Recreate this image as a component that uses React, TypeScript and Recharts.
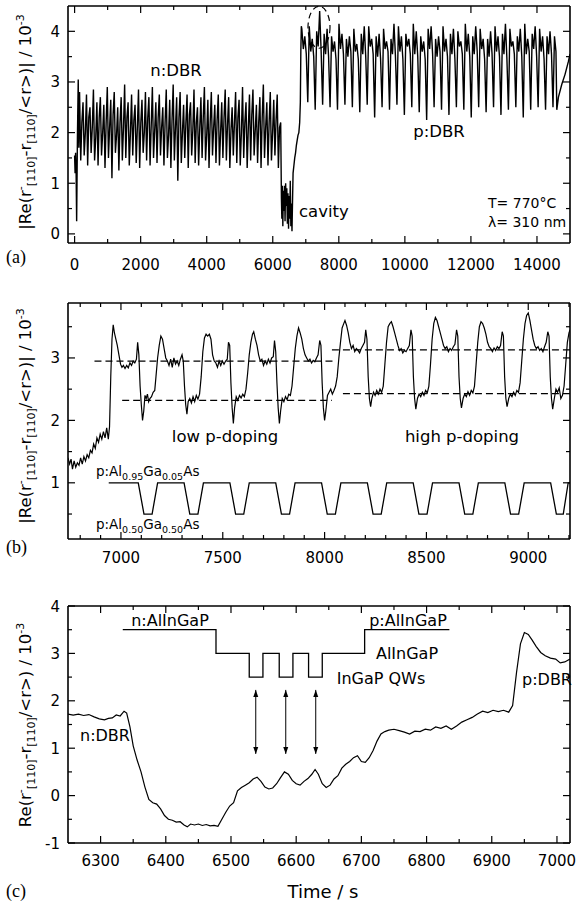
import { LineChart, Line, XAxis, YAxis, ReferenceLine, ReferenceDot } from "recharts";

const FONT = "'DejaVu Sans', Verdana, sans-serif";
const SERIF = "'Liberation Serif', 'Times New Roman', serif";

// ---------- panel (a): full growth run ----------
const aXTicks = [0, 1000, 2000, 3000, 4000, 5000, 6000, 7000, 8000, 9000, 10000, 11000, 12000, 13000, 14000];
const aXMajor = [0, 2000, 4000, 6000, 8000, 10000, 12000, 14000];
const aYTicks = [0, 0.5, 1, 1.5, 2, 2.5, 3, 3.5, 4];
const aYMajor = [0, 1, 2, 3, 4];

const aHead: [number, number][] = [
  [0, 1.55], [15, 1.2], [30, 1.6], [45, 1.25], [62, 0.25], [85, 1.9], [110, 3.05], [128, 1.7],
];
// n:DBR, sampled every 35 s from t = 150 s
const N_START = 150;
const N_DT = 35;
const nDbr = [
  2.8, 1.45, 2.2, 2.6, 1.55, 2.0, 2.75, 1.35, 2.3, 2.5, 1.6, 2.1, 2.85, 1.45, 1.9, 2.6, 1.35, 2.3, 2.7, 1.55, 2.0, 2.55, 1.3, 2.2, 2.9, 1.5, 2.1, 2.65, 1.1, 2.35,
  2.8, 1.6, 1.95, 2.5, 1.25, 2.2, 2.7, 1.45, 2.1, 2.95, 1.5, 2.3, 2.6, 1.35, 2.0, 2.75, 1.55, 2.25, 2.55, 1.4, 2.1, 2.85, 1.3, 2.2, 2.65, 1.6, 2.0, 2.8, 1.45, 2.3,
  2.7, 1.35, 2.15, 2.9, 1.5, 2.05, 2.6, 1.4, 2.3, 2.75, 1.55, 2.1, 2.5, 1.35, 2.2, 2.85, 1.5, 1.95, 2.65, 1.3, 2.25, 2.95, 1.45, 2.1, 2.7, 1.05, 2.3, 2.8, 1.4, 2.0,
  2.55, 1.5, 2.2, 2.75, 1.3, 2.35, 2.6, 1.55, 2.05, 2.85, 1.4, 2.2, 2.5, 1.35, 2.1, 2.7, 1.5, 2.3, 2.9, 1.45, 1.95, 2.65, 1.3, 2.2, 2.8, 1.55, 2.1, 2.55, 1.4, 2.25,
  2.75, 1.35, 2.0, 2.6, 1.5, 2.3, 2.85, 1.45, 2.15, 2.7, 1.3, 2.05, 2.5, 1.55, 2.2, 2.8, 1.4, 2.3, 2.65, 1.35, 2.0, 2.9, 1.5, 2.2, 2.6, 1.3, 2.1, 2.75, 1.45, 2.35,
  2.85, 1.55, 2.05, 2.55, 1.4, 2.2, 2.7, 1.3, 2.3, 2.95, 1.5, 2.1, 2.6, 1.35, 2.2, 2.8, 1.45, 2.0, 2.65, 1.55, 2.25, 2.75, 1.3, 2.1,
];
const aCavity: [number, number][] = [
  [6240, 2.2], [6262, 0.7], [6275, 0.3], [6290, 0.95], [6305, 0.15], [6320, 0.85], [6338, 0.45], [6355, 0.95],
  [6372, 0.25], [6390, 1.0], [6408, 0.55], [6425, 0.9], [6442, 0.2], [6460, 0.8], [6478, 0.1], [6496, 0.75],
  [6514, 0.3], [6530, 1.05], [6548, 0.15], [6565, 0.6], [6582, 0.05], [6600, 0.7], [6615, 1.2], [6640, 1.35],
  [6665, 1.5], [6690, 1.6], [6715, 1.75], [6740, 1.85], [6765, 1.95], [6790, 2.0], [6815, 2.2], [6835, 2.6],
  [6850, 3.6], [6865, 4.1],
];
// p:DBR, sampled every 45 s from t = 6880 s
const P_START = 6880;
const P_DT = 45;
const pDbr = [
  4.05, 3.65, 3.9, 3.55, 2.6, 4.1, 3.6, 3.85, 3.5, 2.45, 4.0, 3.7, 4.4, 3.6, 2.55, 3.95, 3.55, 4.05, 3.5, 2.5,
  3.9, 3.6, 3.8, 3.45, 2.45, 4.15, 3.65, 3.95, 3.55, 2.55, 3.85, 3.5, 3.9, 3.6, 2.5, 4.05, 3.6, 3.75, 3.45, 2.4,
  3.95, 3.55, 4.1, 3.5, 2.55, 4.1, 3.7, 3.85, 3.55, 2.3, 3.9, 3.5, 3.95, 3.45, 2.5, 4.05, 3.65, 3.8, 3.6, 2.45,
  3.85, 3.55, 4.15, 3.5, 2.55, 4.1, 3.6, 3.9, 3.45, 2.35, 3.95, 3.7, 3.85, 3.55, 2.5, 4.15, 3.55, 4.0, 3.5, 2.4,
  3.9, 3.6, 3.8, 3.45, 2.25, 4.05, 3.65, 4.1, 3.55, 2.5, 3.85, 3.5, 3.9, 3.6, 2.45, 4.1, 3.6, 3.85, 3.5, 2.35,
  3.95, 3.55, 4.05, 3.45, 2.5, 4.0, 3.7, 3.8, 3.55, 2.45, 4.15, 3.6, 3.95, 3.5, 2.3, 3.9, 3.55, 4.1, 3.6, 2.5,
  4.05, 3.65, 3.85, 3.45, 2.4, 3.85, 3.5, 4.0, 3.55, 2.5, 4.1, 3.6, 3.9, 3.5, 2.35, 3.95, 3.55, 4.15, 3.45, 2.45,
  4.05, 3.7, 3.8, 3.55, 2.5, 3.9, 3.6, 4.05, 3.5, 2.3, 4.15, 3.55, 3.85, 3.6, 2.45, 3.95, 3.65, 4.1, 3.5, 2.5,
  4.05, 3.6, 3.9, 3.45, 2.45, 3.9, 3.55, 4.0, 3.55, 2.5,
];
const aTail: [number, number][] = [
  [14530, 3.9], [14575, 3.6], [14600, 2.45], [14650, 2.7], [14750, 2.95], [14850, 3.15], [14950, 3.4], [15000, 3.55],
];

const aData = [
  ...aHead.map(([t, v]) => ({ t, v })),
  ...nDbr.map((v, i) => ({ t: N_START + i * N_DT, v })),
  ...aCavity.map(([t, v]) => ({ t, v })),
  ...pDbr.map((v, i) => ({ t: P_START + i * P_DT, v })),
  ...aTail.map(([t, v]) => ({ t, v })),
];
const aMarker = { t: 7400, v: 4.08 };

// ---------- panel (b): p-DBR detail ----------
const bXTicks = [6800, 6900, 7000, 7100, 7200, 7300, 7400, 7500, 7600, 7700, 7800, 7900, 8000, 8100, 8200, 8300, 8400, 8500, 8600, 8700, 8800, 8900, 9000, 9100, 9200];
const bXMajor = [7000, 7500, 8000, 8500, 9000];
const bYTicks = [0.5, 1, 1.5, 2, 2.5, 3, 3.5];
const bYMajor = [1, 2, 3];

const bSignal: [number, number][] = [
  [6740, 1.4], [6748, 1.3], [6755, 1.38], [6762, 1.22], [6770, 1.35], [6778, 1.25], [6786, 1.32], [6794, 1.28],
  [6802, 1.4], [6810, 1.3], [6818, 1.42], [6826, 1.35], [6834, 1.45], [6842, 1.4], [6850, 1.52], [6858, 1.48],
  [6866, 1.62], [6874, 1.55], [6882, 1.72], [6890, 1.65], [6898, 1.78], [6906, 1.7], [6914, 1.82], [6922, 1.72],
  [6930, 1.88], [6938, 1.7], [6944, 1.9], [6950, 2.7], [6956, 3.3], [6962, 3.53], [6968, 3.4], [6975, 3.3],
  [6982, 3.2], [6990, 3.05], [6998, 2.9], [7005, 2.85], [7012, 2.88], [7020, 2.83], [7028, 2.88], [7036, 2.84],
  [7044, 2.92], [7052, 2.88], [7060, 2.95], [7068, 2.92], [7076, 2.98], [7082, 3.25], [7088, 3.05], [7094, 2.55],
  [7100, 2.25], [7106, 2.0], [7112, 2.15], [7118, 2.4], [7124, 2.35], [7130, 2.42], [7136, 2.3], [7142, 2.35],
  [7150, 2.38], [7158, 2.45], [7166, 2.48], [7172, 2.7], [7180, 3.0], [7188, 3.2], [7196, 3.35], [7204, 3.3],
  [7212, 3.15], [7220, 3.0], [7228, 2.95], [7236, 2.88], [7244, 2.98], [7252, 2.85], [7260, 3.0], [7268, 2.9],
  [7276, 2.95], [7284, 2.88], [7292, 2.98], [7300, 3.05], [7306, 2.95], [7312, 2.55], [7318, 2.25], [7324, 2.1],
  [7330, 2.3], [7338, 2.35], [7346, 2.28], [7354, 2.38], [7362, 2.3], [7370, 2.4], [7378, 2.34], [7386, 2.42],
  [7394, 2.7], [7402, 3.1], [7410, 3.32], [7418, 3.38], [7426, 3.35], [7434, 3.38], [7442, 3.3], [7450, 3.05],
  [7458, 2.95], [7466, 2.92], [7474, 2.85], [7482, 2.95], [7490, 2.88], [7498, 2.95], [7506, 2.9], [7514, 2.95],
  [7522, 2.98], [7528, 3.25], [7534, 3.2], [7540, 2.6], [7546, 2.2], [7552, 1.95], [7558, 2.2], [7566, 2.38],
  [7574, 2.32], [7582, 2.4], [7590, 2.36], [7598, 2.42], [7606, 2.38], [7614, 2.5], [7622, 2.75], [7630, 3.05],
  [7638, 3.25], [7646, 3.38], [7652, 3.42], [7660, 3.3], [7668, 3.2], [7676, 3.05], [7684, 2.95], [7692, 2.98],
  [7700, 2.88], [7708, 2.95], [7716, 2.9], [7724, 2.98], [7732, 2.92], [7740, 3.0], [7748, 3.02], [7754, 3.28],
  [7760, 3.1], [7766, 2.6], [7772, 2.2], [7778, 1.95], [7784, 2.15], [7792, 2.35], [7800, 2.3], [7808, 2.38],
  [7816, 2.33], [7824, 2.42], [7832, 2.4], [7840, 2.55], [7848, 2.85], [7856, 3.15], [7864, 3.35], [7872, 3.48],
  [7880, 3.4], [7888, 3.3], [7896, 3.15], [7904, 3.05], [7912, 3.0], [7920, 2.95], [7928, 2.98], [7936, 2.92],
  [7944, 2.96], [7952, 2.94], [7960, 3.0], [7968, 3.05], [7976, 3.28], [7982, 3.2], [7988, 2.6], [7994, 2.2],
  [8000, 2.0], [8006, 2.15], [8014, 2.4], [8022, 2.45], [8030, 2.5], [8038, 2.42], [8046, 2.48], [8054, 2.55],
  [8062, 2.7], [8070, 3.0], [8078, 3.25], [8086, 3.48], [8094, 3.55], [8100, 3.6], [8108, 3.52], [8116, 3.4],
  [8124, 3.25], [8132, 3.15], [8140, 3.2], [8148, 3.1], [8156, 3.15], [8164, 3.12], [8172, 3.08], [8180, 3.15],
  [8188, 3.2], [8196, 3.25], [8202, 3.45], [8208, 3.3], [8214, 2.7], [8220, 2.35], [8226, 2.22], [8232, 2.35],
  [8240, 2.45], [8248, 2.4], [8256, 2.48], [8264, 2.42], [8272, 2.5], [8280, 2.45], [8288, 2.55], [8296, 2.9],
  [8304, 3.25], [8312, 3.5], [8320, 3.55], [8328, 3.58], [8336, 3.5], [8344, 3.4], [8352, 3.3], [8360, 3.2],
  [8368, 3.12], [8376, 3.15], [8384, 3.08], [8392, 3.12], [8400, 3.1], [8408, 3.15], [8416, 3.2], [8424, 3.45],
  [8430, 3.35], [8436, 2.7], [8442, 2.35], [8448, 2.18], [8456, 2.35], [8464, 2.42], [8472, 2.38], [8480, 2.45],
  [8488, 2.4], [8496, 2.48], [8504, 2.44], [8512, 2.55], [8520, 2.9], [8528, 3.3], [8536, 3.55], [8544, 3.65],
  [8552, 3.6], [8560, 3.5], [8568, 3.4], [8576, 3.3], [8584, 3.2], [8592, 3.15], [8600, 3.18], [8608, 3.1],
  [8616, 3.15], [8624, 3.12], [8632, 3.18], [8640, 3.22], [8648, 3.45], [8654, 3.35], [8660, 2.7], [8666, 2.35],
  [8672, 2.2], [8680, 2.35], [8688, 2.42], [8696, 2.38], [8704, 2.46], [8712, 2.4], [8720, 2.48], [8728, 2.44],
  [8736, 2.55], [8744, 2.9], [8752, 3.25], [8760, 3.5], [8768, 3.58], [8776, 3.55], [8784, 3.48], [8792, 3.38],
  [8800, 3.25], [8808, 3.18], [8816, 3.15], [8824, 3.1], [8832, 3.16], [8840, 3.12], [8848, 3.18], [8856, 3.15],
  [8864, 3.2], [8872, 3.42], [8878, 3.35], [8884, 2.7], [8890, 2.35], [8896, 2.22], [8904, 2.35], [8912, 2.42],
  [8920, 2.38], [8928, 2.45], [8936, 2.4], [8944, 2.48], [8952, 2.45], [8960, 2.6], [8968, 2.95], [8976, 3.3],
  [8984, 3.55], [8992, 3.68], [9000, 3.72], [9008, 3.6], [9016, 3.45], [9024, 3.3], [9032, 3.2], [9040, 3.15],
  [9048, 3.18], [9056, 3.12], [9064, 3.15], [9072, 3.1], [9080, 3.18], [9088, 3.25], [9096, 3.42], [9102, 3.35],
  [9108, 2.7], [9114, 2.35], [9120, 2.18], [9128, 2.35], [9136, 2.5], [9144, 2.45], [9152, 2.52], [9160, 2.35],
  [9168, 2.4], [9176, 2.55], [9184, 2.9], [9192, 3.25], [9200, 3.4], [9205, 3.45],
];
// nominal Al content profile (1 = Al0.95Ga0.05As, 0.5 = Al0.50Ga0.50As)
const bLayers: [number, number][] = [
  [6940, 1], [7085, 1], [7113, 0.5], [7153, 0.5], [7180, 1],
  [7310, 1], [7338, 0.5], [7378, 0.5], [7405, 1],
  [7535, 1], [7563, 0.5], [7603, 0.5], [7630, 1],
  [7760, 1], [7788, 0.5], [7828, 0.5], [7855, 1],
  [7985, 1], [8013, 0.5], [8053, 0.5], [8080, 1],
  [8210, 1], [8238, 0.5], [8278, 0.5], [8305, 1],
  [8435, 1], [8463, 0.5], [8503, 0.5], [8530, 1],
  [8660, 1], [8688, 0.5], [8728, 0.5], [8755, 1],
  [8885, 1], [8913, 0.5], [8953, 0.5], [8980, 1],
  [9110, 1], [9138, 0.5], [9172, 0.5], [9196, 1], [9205, 1],
];
const bLevels = [
  { from: 6870, to: 8045, y: 2.95 },
  { from: 7006, to: 8036, y: 2.32 },
  { from: 8036, to: 9205, y: 3.13 },
  { from: 8090, to: 9205, y: 2.43 },
];

// ---------- panel (c): cavity detail ----------
const cXTicks = [6300, 6350, 6400, 6450, 6500, 6550, 6600, 6650, 6700, 6750, 6800, 6850, 6900, 6950, 7000];
const cXMajor = [6300, 6400, 6500, 6600, 6700, 6800, 6900, 7000];
const cYTicks = [-1, -0.5, 0, 0.5, 1, 1.5, 2, 2.5, 3, 3.5, 4];
const cYMajor = [-1, 0, 1, 2, 3, 4];

const cSignal: [number, number][] = [
  [6250, 1.72], [6258, 1.7], [6266, 1.72], [6274, 1.69], [6282, 1.71], [6290, 1.66], [6298, 1.62], [6306, 1.6],
  [6312, 1.63], [6318, 1.64], [6324, 1.7], [6330, 1.68], [6336, 1.78], [6340, 1.74], [6345, 1.45], [6350, 1.05],
  [6356, 0.75], [6362, 0.5], [6368, 0.18], [6374, -0.08], [6380, -0.15], [6386, -0.18], [6392, -0.28], [6398, -0.42],
  [6404, -0.5], [6410, -0.52], [6416, -0.56], [6422, -0.55], [6428, -0.62], [6433, -0.66], [6438, -0.6], [6444, -0.62],
  [6450, -0.6], [6456, -0.63], [6462, -0.61], [6468, -0.64], [6474, -0.63], [6480, -0.65], [6486, -0.5], [6492, -0.35],
  [6498, -0.22], [6504, -0.15], [6510, 0.1], [6516, 0.17], [6522, 0.22], [6528, 0.27], [6534, 0.35], [6540, 0.39],
  [6546, 0.3], [6552, 0.18], [6558, 0.14], [6564, 0.16], [6570, 0.25], [6576, 0.38], [6582, 0.5], [6588, 0.45],
  [6594, 0.32], [6600, 0.25], [6606, 0.22], [6612, 0.3], [6618, 0.36], [6624, 0.45], [6629, 0.55], [6634, 0.45],
  [6640, 0.25], [6646, 0.17], [6652, 0.22], [6658, 0.35], [6664, 0.42], [6670, 0.58], [6676, 0.66], [6682, 0.72],
  [6688, 0.8], [6694, 0.84], [6700, 0.72], [6706, 0.7], [6712, 0.8], [6718, 0.95], [6724, 1.15], [6730, 1.3],
  [6736, 1.35], [6742, 1.38], [6750, 1.4], [6758, 1.37], [6766, 1.34], [6774, 1.3], [6782, 1.36], [6790, 1.35],
  [6798, 1.4], [6806, 1.38], [6814, 1.45], [6822, 1.42], [6830, 1.47], [6838, 1.4], [6846, 1.47], [6854, 1.55],
  [6862, 1.6], [6870, 1.65], [6878, 1.72], [6886, 1.78], [6894, 1.75], [6902, 1.8], [6910, 1.77], [6918, 1.8],
  [6926, 1.76], [6932, 1.9], [6938, 2.6], [6944, 3.2], [6950, 3.44], [6956, 3.4], [6962, 3.28], [6968, 3.15],
  [6975, 3.02], [6982, 2.95], [6990, 2.9], [6998, 2.88], [7005, 2.8], [7012, 2.82], [7020, 2.88],
];
// band-gap sketch of the active region
const cBands: [number, number][] = [
  [6334, 3.5], [6477, 3.5], [6477, 3], [6528, 3], [6528, 2.5], [6549, 2.5], [6549, 3], [6574, 3],
  [6574, 2.5], [6595, 2.5], [6595, 3], [6619, 3], [6619, 2.5], [6640, 2.5], [6640, 3], [6705, 3],
  [6705, 3.5], [6835, 3.5],
];
const cArrowTimes = [6538, 6584, 6630];
const cArrowSpan = [0.88, 2.23];

const pts = (arr: [number, number][]) => arr.map(([t, v]) => ({ t, v }));

type Side = "top" | "bottom" | "left" | "right";

function ticker(side: Side, majors: number[], labels: boolean, gap = 0) {
  return (p: any) => {
    const { x, y, payload } = p;
    const v = payload.value as number;
    const major = majors.includes(v);
    const len = major ? 7 : 4;
    let x2 = x;
    let y2 = y;
    if (side === "bottom") y2 = y - len;
    if (side === "top") y2 = y + len;
    if (side === "left") x2 = x + len;
    if (side === "right") x2 = x - len;
    let label = null;
    if (labels && major) {
      if (side === "bottom")
        label = (
          <text x={x} y={y + gap} textAnchor="middle" fontFamily={FONT} fontSize={15} fill="#000">
            {v}
          </text>
        );
      if (side === "left")
        label = (
          <text x={x - gap} y={y + 5.5} textAnchor="end" fontFamily={FONT} fontSize={15} fill="#000">
            {v}
          </text>
        );
    }
    return (
      <g>
        <line x1={x} y1={y} x2={x2} y2={y2} stroke="#000" strokeWidth={1.2} />
        {label}
      </g>
    );
  };
}

const axisLine = { stroke: "#000", strokeWidth: 1.6 };

// axes are 1px thick so recharts draws them; the chart margins absorb that pixel
function frame(xDomain: number[], yDomain: number[], xTicks: number[], xMajor: number[], yTicks: number[], yMajor: number[], xGap: number) {
  return [
    <XAxis key="xb" xAxisId="b" dataKey="t" type="number" domain={xDomain} allowDataOverflow ticks={xTicks} interval={0}
      height={1} tickSize={0} tickMargin={0} tickLine={false} axisLine={axisLine} tick={ticker("bottom", xMajor, true, xGap)} />,
    <XAxis key="xt" xAxisId="t" orientation="top" dataKey="t" type="number" domain={xDomain} allowDataOverflow ticks={xTicks} interval={0}
      height={1} tickSize={0} tickMargin={0} tickLine={false} axisLine={axisLine} tick={ticker("top", xMajor, false)} />,
    <YAxis key="yl" yAxisId="l" type="number" domain={yDomain} allowDataOverflow ticks={yTicks} interval={0}
      width={1} tickSize={0} tickMargin={0} tickLine={false} axisLine={axisLine} tick={ticker("left", yMajor, true, 8)} />,
    <YAxis key="yr" yAxisId="r" orientation="right" type="number" domain={yDomain} allowDataOverflow ticks={yTicks} interval={0}
      width={1} tickSize={0} tickMargin={0} tickLine={false} axisLine={axisLine} tick={ticker("right", yMajor, false)} />,
  ];
}

function YTitle({ cx, cy, abs }: { cx: number; cy: number; abs: boolean }) {
  const bar = abs ? "|" : "";
  return (
    <text transform={`translate(${cx},${cy}) rotate(-90)`} textAnchor="middle" fontFamily={FONT} fontSize={16.5} fill="#000">
      {bar}Re(r
      <tspan dy={-7} fontSize={11}>-</tspan>
      <tspan dy={11} fontSize={11}>[110]</tspan>
      <tspan dy={-4}>-r</tspan>
      <tspan dy={4} fontSize={11}>[110]</tspan>
      <tspan dy={-4}>{`/<r>)${bar} / 10`}</tspan>
      <tspan dy={-7} fontSize={11}>-3</tspan>
    </text>
  );
}

function Alloy({ x, y, a, b }: { x: number; y: number; a: string; b: string }) {
  return (
    <text x={x} y={y} fontFamily={FONT} fontSize={13.5} fill="#000">
      p:Al<tspan dy={4} fontSize={9.5}>{a}</tspan>
      <tspan dy={-4}>Ga</tspan>
      <tspan dy={4} fontSize={9.5}>{b}</tspan>
      <tspan dy={-4}>As</tspan>
    </text>
  );
}

const arrowDot = (p: any) => {
  const { cx, cy, payload, index } = p;
  const up = payload.v > 1.5;
  const d = up ? `M${cx},${cy} l-2.5,7 l5,0 z` : `M${cx},${cy} l-2.5,-7 l5,0 z`;
  return <path key={index} d={d} fill="#000" />;
};

export default function App() {
  const line = { xAxisId: "b", yAxisId: "l", dataKey: "v", stroke: "#000", dot: false, isAnimationActive: false } as const;
  return (
    <div style={{ position: "absolute", left: 0, top: 0, width: 577, height: 905, background: "#fff" }}>
      <div style={{ position: "absolute", left: 0, top: 0 }}>
        <LineChart width={577} height={285} margin={{ top: 5, right: 6, bottom: 41, left: 67 }}>
          {frame([-200, 15000], [-0.18, 4.5], aXTicks, aXMajor, aYTicks, aYMajor, 27)}
          <Line {...line} data={aData} strokeWidth={1.4} />
          <ReferenceDot xAxisId="b" yAxisId="l" x={aMarker.t} y={aMarker.v}
            shape={(p: any) => <ellipse cx={p.cx} cy={p.cy} rx={11} ry={21} fill="none" stroke="#000" strokeWidth={1.2} strokeDasharray="6 4" />} />
        </LineChart>
      </div>
      <div style={{ position: "absolute", left: 0, top: 285 }}>
        <LineChart width={577} height={300} margin={{ top: 17, right: 6, bottom: 45, left: 67 }}>
          {frame([6740, 9205], [0.1, 3.88], bXTicks, bXMajor, bYTicks, bYMajor, 24)}
          {bLevels.map((l, i) => (
            <ReferenceLine key={i} xAxisId="b" yAxisId="l" segment={[{ x: l.from, y: l.y }, { x: l.to, y: l.y }]}
              stroke="#000" strokeWidth={1.2} strokeDasharray="7 4" />
          ))}
          <Line {...line} data={pts(bSignal)} strokeWidth={1.2} />
          <Line {...line} data={pts(bLayers)} strokeWidth={1.3} />
        </LineChart>
      </div>
      <div style={{ position: "absolute", left: 0, top: 585 }}>
        <LineChart width={577} height={320} margin={{ top: 20, right: 6, bottom: 61, left: 67 }}>
          {frame([6250, 7020], [-1, 4], cXTicks, cXMajor, cYTicks, cYMajor, 23)}
          <Line {...line} data={pts(cSignal)} strokeWidth={1.2} />
          <Line {...line} data={pts(cBands)} strokeWidth={1.3} />
          {cArrowTimes.map((t) => (
            <Line key={t} {...line} data={cArrowSpan.map((v) => ({ t, v }))} strokeWidth={1} dot={arrowDot} />
          ))}
        </LineChart>
      </div>

      <svg width={577} height={905} style={{ position: "absolute", left: 0, top: 0, pointerEvents: "none" }}>
        <g fontFamily={FONT} fill="#000">
          {/* (a) */}
          <text x={176} y={76} fontSize={16.5} textAnchor="middle">n:DBR</text>
          <text x={299} y={217} fontSize={16.5}>cavity</text>
          <text x={439} y={137} fontSize={16.5} textAnchor="middle">p:DBR</text>
          <text x={488} y={208} fontSize={14}>T= 770°C</text>
          <text x={488} y={227} fontSize={14}>λ= 310 nm</text>
          {/* (b) */}
          <text x={225} y={442} fontSize={16.5} textAnchor="middle">low p-doping</text>
          <text x={462} y={442} fontSize={16.5} textAnchor="middle">high p-doping</text>
          {/* (c) */}
          <text x={170} y={626} fontSize={16} textAnchor="middle">n:AlInGaP</text>
          <text x={408} y={626} fontSize={16} textAnchor="middle">p:AlInGaP</text>
          <text x={407} y={659} fontSize={16} textAnchor="middle">AlInGaP</text>
          <text x={381} y={684} fontSize={16} textAnchor="middle">InGaP QWs</text>
          <text x={105} y={741} fontSize={16} textAnchor="middle">n:DBR</text>
          <text x={547} y={685} fontSize={16} textAnchor="middle">p:DBR</text>
          <text x={323} y={898} fontSize={18} textAnchor="middle">Time / s</text>
        </g>
        <Alloy x={96} y={476} a="0.95" b="0.05" />
        <Alloy x={96} y={529} a="0.50" b="0.50" />
        <YTitle cx={31} cy={122} abs />
        <YTitle cx={31} cy={416} abs />
        <YTitle cx={31} cy={725} abs={false} />
        <g fontFamily={SERIF} fontSize={18} fill="#000">
          <text x={6} y={263}>(a)</text>
          <text x={6} y={553}>(b)</text>
          <text x={6} y={897}>(c)</text>
        </g>
      </svg>
    </div>
  );
}
